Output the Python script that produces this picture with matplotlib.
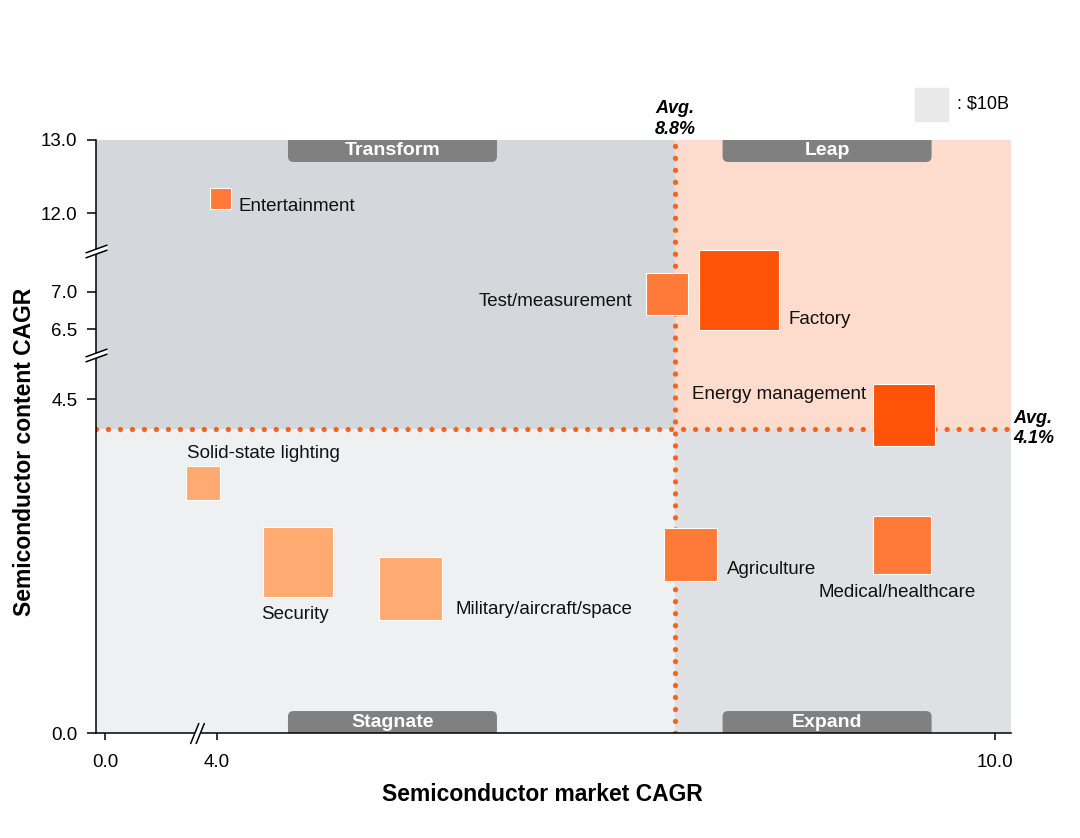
import numpy as np
import matplotlib
matplotlib.use("Agg")
import matplotlib.pyplot as plt
import matplotlib.transforms as mtransforms
from matplotlib.patches import FancyBboxPatch
from matplotlib.path import Path

plt.rcParams['font.family'] = ['Liberation Sans', 'DejaVu Sans']

# --- data ---
names = ["Entertainment", "Test/measurement", "Factory", "Energy management",
         "Solid-state lighting", "Security", "Military/aircraft/space",
         "Agriculture", "Medical/healthcare"]
market_cagr = [4.04, 8.72, 9.04, 9.66, 3.5, 4.85, 6.03, 8.86, 9.65]
content_cagr = [12.2, 6.97, 7.13, 4.28, 3.37, 2.30, 1.95, 2.41, 2.53]
market_size = [4.0, 16.2, 60.0, 35.0, 10.6, 45.0, 36.0, 25.8, 31.0]  # $B
tier = ["mid", "mid", "dark", "dark", "light", "light", "light", "mid", "mid"]

avg_market = 8.8
avg_content = 4.1
legend_size = 10.0

xticks = [0.0, 4.0, 10.0]
yticks = [0.0, 4.5, 6.5, 7.0, 12.0, 13.0]
x_breaks = [3.3]
y_breaks = [5.75, 9.6]

# --- styling ---
tier_colors = {"dark": "#ff5309", "mid": "#ff7a38", "light": "#ffaa70"}
quad_colors = {"Transform": "#d4d7db", "Leap": "#fddbcd",
               "Stagnate": "#eff0f2", "Expand": "#dee0e3"}
avg_color = "#f3651f"

# label offsets (points) and alignment per segment
label_off = [(12.6, -6.1), (-25.2, -5.4), (36, -21.6), (-27.7, 14.8),
             (-11.5, 20.9), (-2.2, -37.4), (32.4, -15.1), (25.9, -11.2),
             (-2.9, -34.2)]
label_ha = ["left", "right", "left", "right", "left", "center", "left",
            "left", "center"]

# broken axes as piecewise linear scales
x_knots = [-1, 0, 4, 8.8, 10, 11]
x_pos = [-28, 0, 112, 570, 890, 1157]
y_knots = [-1, 0, 4.5, 6.5, 7, 12, 13, 14]
y_pos = [-74, 0, 334, 404, 441, 520, 593, 666]


def fx(v):
    return np.interp(v, x_knots, x_pos)


def ix(p):
    return np.interp(p, x_pos, x_knots)


def fy(v):
    return np.interp(v, y_knots, y_pos)


def iy(p):
    return np.interp(p, y_pos, y_knots)


def side_pts(size):
    # 33 px square stands for $10B, area proportional to size
    return 33 * np.sqrt(np.asarray(size) / legend_size) * 0.72


fig = plt.figure(figsize=(10.8, 8.38), dpi=100)
ax = fig.add_axes([96 / 1080, 105 / 838, 915 / 1080, 593 / 838])
ax.set_xscale('function', functions=(fx, ix))
ax.set_yscale('function', functions=(fy, iy))
xmin, xmax = -0.32, 10.06
ymin, ymax = 0.0, 13.0
ax.set_xlim(xmin, xmax)
ax.set_ylim(ymin, ymax)

# quadrant backgrounds
ax.fill_between([xmin, avg_market], avg_content, ymax, color=quad_colors["Transform"], lw=0, zorder=0)
ax.fill_between([avg_market, xmax], avg_content, ymax, color=quad_colors["Leap"], lw=0, zorder=0)
ax.fill_between([xmin, avg_market], ymin, avg_content, color=quad_colors["Stagnate"], lw=0, zorder=0)
ax.fill_between([avg_market, xmax], ymin, avg_content, color=quad_colors["Expand"], lw=0, zorder=0)

# quadrant tags
tag_pos = {"Transform": (0.324, "top"), "Leap": (0.799, "top"),
           "Stagnate": (0.324, "bottom"), "Expand": (0.799, "bottom")}
tw, th = 0.2284, 0.037
for q, (cx, where) in tag_pos.items():
    y0 = 1 - th if where == "top" else -0.03
    box = FancyBboxPatch((cx - tw / 2, y0), tw, th + 0.03,
                         boxstyle="round,pad=0,rounding_size=0.006",
                         mutation_aspect=915 / 593, transform=ax.transAxes,
                         fc="#808080", ec="none", zorder=1)
    ax.add_patch(box)
    ty = 1 - th / 2 if where == "top" else th / 2
    ax.text(cx, ty, q, transform=ax.transAxes, ha="center", va="center",
            color="white", fontsize=14, fontweight="bold", zorder=2)

# average lines (round dots)
ax.axvline(avg_market, color=avg_color, lw=3.8, ls=(0, (0.01, 2.26)),
           dash_capstyle="round", zorder=3)
ax.axhline(avg_content, color=avg_color, lw=3.8, ls=(0, (0.01, 2.26)),
           dash_capstyle="round", zorder=3)
ax.text(avg_market, 1.004, f"Avg.\n{avg_market}%",
        transform=mtransforms.blended_transform_factory(ax.transData, ax.transAxes),
        ha="center", va="bottom", fontsize=13, fontweight="bold",
        fontstyle="italic", linespacing=1.25)
ax.text(1.003, avg_content, f"Avg.\n{avg_content}%",
        transform=mtransforms.blended_transform_factory(ax.transAxes, ax.transData),
        ha="left", va="center", fontsize=13, fontweight="bold",
        fontstyle="italic", linespacing=1.25)

# segments
colors = [tier_colors[t] for t in tier]
ax.scatter(market_cagr, content_cagr, s=side_pts(market_size) ** 2, marker="s",
           c=colors, edgecolors="white", linewidths=0.8, zorder=4)
for name, x, y, off, ha in zip(names, market_cagr, content_cagr, label_off, label_ha):
    ax.annotate(name, (x, y), xytext=off, textcoords="offset points",
                ha=ha, va="center", fontsize=13.5, color="#111111", zorder=5)

# size key
ax.scatter([0.9126], [1.06], s=side_pts(legend_size) ** 2, marker="s",
           color="#e9e9e9", transform=ax.transAxes, clip_on=False)
ax.annotate(f": ${legend_size:.0f}B", (0.9126, 1.06), xycoords="axes fraction",
            xytext=(18.7, 0), textcoords="offset points", ha="left",
            va="center", fontsize=13)

# axes styling
for s in ["top", "right"]:
    ax.spines[s].set_visible(False)
for s in ["left", "bottom"]:
    ax.spines[s].set_linewidth(1.1)
    ax.spines[s].set_zorder(6)
ax.set_xticks(xticks)
ax.set_xticklabels([f"{t:.1f}" for t in xticks])
ax.set_yticks(yticks)
ax.set_yticklabels([f"{t:.1f}" for t in yticks])
ax.minorticks_off()
ax.tick_params(axis="y", length=6.5, width=1.1, pad=7, labelsize=13.5)
ax.tick_params(axis="x", length=5, width=1.1, pad=10, labelsize=13.5)

# break marks
yb_path = Path([(-11, -6.5), (11, 1.5), (-11, -1.5), (11, 6.5)],
               [Path.MOVETO, Path.LINETO, Path.MOVETO, Path.LINETO])
yb_fill = Path([(-11, -6.5), (11, 1.5), (11, 6.5), (-11, -1.5), (-11, -6.5)])
ytr = mtransforms.blended_transform_factory(ax.transAxes, ax.transData)
for yb in y_breaks:
    ax.plot([0], [yb], marker=yb_fill, ms=22 * 0.72, mfc="white", mec="none",
            transform=ytr, clip_on=False, zorder=7)
    ax.plot([0], [yb], marker=yb_path, ms=22 * 0.72, mfc="none", mec="black",
            mew=1.1, transform=ytr, clip_on=False, zorder=8)
xb_path = Path([(-7, -10.5), (1.5, 10.5), (-1.5, -10.5), (7, 10.5)],
               [Path.MOVETO, Path.LINETO, Path.MOVETO, Path.LINETO])
xb_fill = Path([(-7, -10.5), (1.5, 10.5), (7, 10.5), (-1.5, -10.5), (-7, -10.5)])
xtr = mtransforms.blended_transform_factory(ax.transData, ax.transAxes)
for xb in x_breaks:
    ax.plot([xb], [0], marker=xb_fill, ms=21 * 0.72, mfc="white", mec="none",
            transform=xtr, clip_on=False, zorder=7)
    ax.plot([xb], [0], marker=xb_path, ms=21 * 0.72, mfc="none", mec="black",
            mew=1.1, transform=xtr, clip_on=False, zorder=8)

ax.set_xlabel("Semiconductor market CAGR", fontsize=16.5, fontweight="bold")
ax.xaxis.set_label_coords(0.4874, -0.084)
ax.xaxis.label.set_va("top")
ax.set_ylabel("Semiconductor content CAGR", fontsize=16.5, fontweight="bold")
ax.yaxis.set_label_coords(-0.0776, 0.474)
ax.yaxis.label.set_va("center")

fig.savefig("out.png", dpi=100)
